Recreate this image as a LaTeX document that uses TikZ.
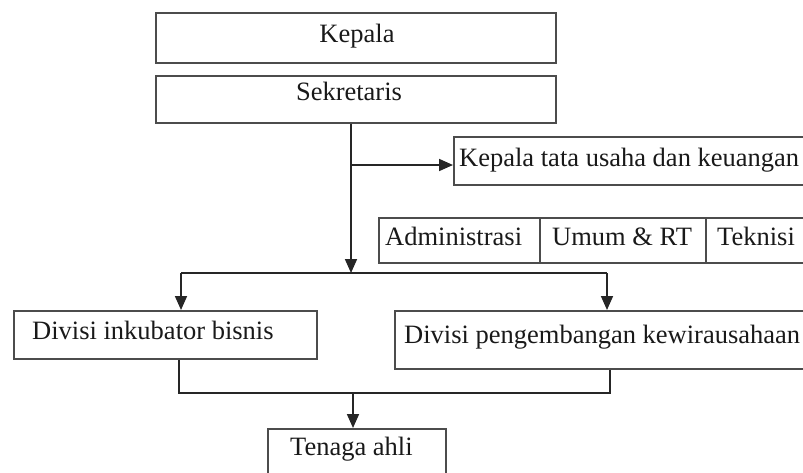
\documentclass[tikz,border=0pt]{standalone}
\usepackage{fontspec}
\setmainfont{Liberation Serif}
\usetikzlibrary{arrows.meta}
\begin{document}
\begin{tikzpicture}[x=1pt,y=-1pt,
  box/.style={draw=black!70, line width=1.7pt, rectangle, inner sep=0pt, anchor=north west},
  txt/.style={inner sep=0pt, anchor=base west, font=\fontsize{26.5}{30}\selectfont, text=black!90},
  conn/.style={draw=black!85, line width=1.7pt},
  arr/.style={conn, -{Triangle[length=14pt,width=12pt]}}]
\path[use as bounding box] (0,0) rectangle (803,472);
\clip (0,0) rectangle (803,472);
% boxes
\node[box, minimum width=400pt, minimum height=50pt] (kepala) at (155,12) {};
\node[box, minimum width=400pt, minimum height=47pt] (sekr) at (155,75) {};
\node[box, minimum width=370pt, minimum height=48pt] (ktu) at (453,136) {};
\node[box, minimum width=161pt, minimum height=45pt] (adm) at (378,217) {};
\node[box, minimum width=166pt, minimum height=45pt] (umum) at (539,217) {};
\node[box, minimum width=120pt, minimum height=45pt] (tek) at (705,217) {};
\node[box, minimum width=303pt, minimum height=48pt] (inku) at (13,310) {};
\node[box, minimum width=430pt, minimum height=58pt] (peng) at (394,310) {};
\node[box, minimum width=178pt, minimum height=60pt] (tenaga) at (267,428) {};
% texts
\node[txt, anchor=base] (kepalaT) at (357,42) {Kepala};
\node[txt, anchor=base] (sekrT) at (349,100) {Sekretaris};
\node[txt] (ktuT) at (459,166) {Kepala tata usaha dan keuangan};
\node[txt] (admT) at (385,245) {Administrasi};
\node[txt] (umumT) at (552,245) {Umum \& RT};
\node[txt] (tekT) at (717,245) {Teknisi};
\node[txt] (inkuT) at (32,339) {Divisi inkubator bisnis};
\node[txt] (pengT) at (404,343) {Divisi pengembangan kewirausahaan};
\node[txt] (tenagaT) at (290,455) {Tenaga ahli};
% junctions
\coordinate (j1) at (351,165);
\coordinate (j2) at (351,273);
\coordinate (jl) at (181,273);
\coordinate (jr) at (607,273);
\coordinate (k1) at (179,393);
\coordinate (k2) at (610,393);
\coordinate (k3) at (353,393);
% connectors
\draw[arr] (sekr.south -| j2) -- (j2);
\draw[arr] (j1) -- (j1 -| ktu.west);
\draw[conn] (jl) -- (jr);
\draw[arr] (jl) -- (jl |- inku.north);
\draw[arr] (jr) -- (jr |- peng.north);
\draw[conn] (inku.south -| k1) -- (k1) -- (k2) -- (peng.south -| k2);
\draw[arr] (k3) -- (k3 |- tenaga.north);
\end{tikzpicture}
\end{document}
